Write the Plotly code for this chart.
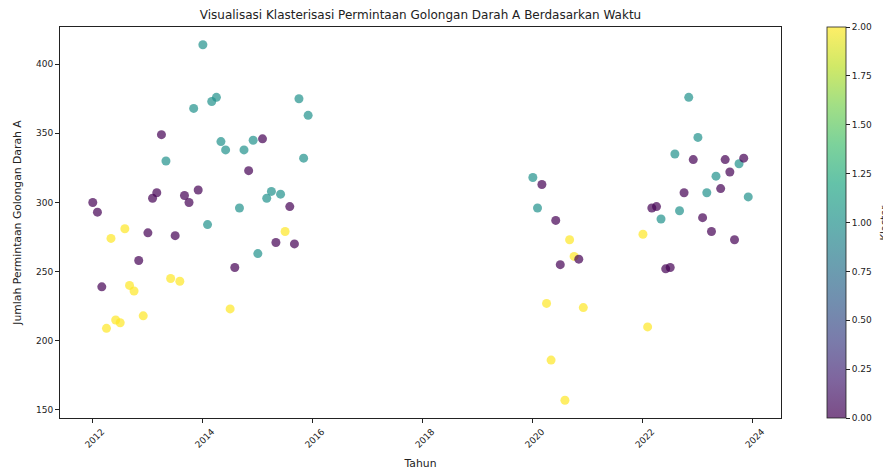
import plotly.graph_objects as go
import pandas as pd

# ---------------- data ----------------
tanggal = [
    "2012-01-01", "2012-02-01", "2012-03-01", "2012-04-01", "2012-05-01", "2012-06-01",
    "2012-07-01", "2012-08-01", "2012-09-01", "2012-10-01", "2012-11-01", "2012-12-01",
    "2013-01-01", "2013-02-01", "2013-03-01", "2013-04-01", "2013-05-01", "2013-06-01",
    "2013-07-01", "2013-08-01", "2013-09-01", "2013-10-01", "2013-11-01", "2013-12-01",
    "2014-01-01", "2014-02-01", "2014-03-01", "2014-04-01", "2014-05-01", "2014-06-01",
    "2014-07-01", "2014-08-01", "2014-09-01", "2014-10-01", "2014-11-01", "2014-12-01",
    "2015-01-01", "2015-02-01", "2015-03-01", "2015-04-01", "2015-05-01", "2015-06-01",
    "2015-07-01", "2015-08-01", "2015-09-01", "2015-10-01", "2015-11-01", "2015-12-01",
    "2020-01-01", "2020-02-01", "2020-03-01", "2020-04-01", "2020-05-01", "2020-06-01",
    "2020-07-01", "2020-08-01", "2020-09-01", "2020-10-01", "2020-11-01", "2020-12-01",
    "2022-01-01", "2022-02-01", "2022-03-01", "2022-04-01", "2022-05-01", "2022-06-01",
    "2022-07-01", "2022-08-01", "2022-09-01", "2022-10-01", "2022-11-01", "2022-12-01",
    "2023-01-01", "2023-02-01", "2023-03-01", "2023-04-01", "2023-05-01", "2023-06-01",
    "2023-07-01", "2023-08-01", "2023-09-01", "2023-10-01", "2023-11-01", "2023-12-01",
]

permintaan = [
    300, 293, 239, 209, 274, 215, 213, 281, 240, 236, 258, 218,
    278, 303, 307, 349, 330, 245, 276, 243, 305, 300, 368, 309,
    414, 284, 373, 376, 344, 338, 223, 253, 296, 338, 323, 345,
    263, 346, 303, 308, 271, 306, 279, 297, 270, 375, 332, 363,
    318, 296, 313, 227, 186, 287, 255, 157, 273, 261, 259, 224,
    277, 210, 296, 297, 288, 252, 253, 335, 294, 307, 376, 331,
    347, 289, 307, 279, 319, 310, 331, 322, 273, 328, 332, 304,
]

klaster = [
    0, 0, 0, 2, 2, 2, 2, 2, 2, 2, 0, 2,
    0, 0, 0, 0, 1, 2, 0, 2, 0, 0, 1, 0,
    1, 1, 1, 1, 1, 1, 2, 0, 1, 1, 0, 1,
    1, 0, 1, 1, 0, 1, 2, 0, 0, 1, 1, 1,
    1, 1, 0, 2, 2, 0, 0, 2, 2, 2, 0, 2,
    2, 2, 0, 0, 1, 0, 0, 1, 1, 0, 1, 0,
    1, 0, 1, 0, 1, 0, 0, 0, 0, 1, 0, 1,
]

y_ticks = [150, 200, 250, 300, 350, 400]
cb_ticks = [0.0, 0.25, 0.5, 0.75, 1.0, 1.25, 1.5, 1.75, 2.0]

# viridis with alpha 0.7 (like matplotlib alpha=0.7)
viridis = [
    (68, 1, 84), (72, 36, 117), (65, 68, 135), (53, 95, 141), (42, 120, 142),
    (33, 145, 140), (34, 168, 132), (68, 191, 112), (122, 209, 81), (189, 223, 38),
    (253, 231, 37),
]
colorscale = [[i / 10, f"rgba({r},{g},{b},0.7)"] for i, (r, g, b) in enumerate(viridis)]

# ---------------- ranges like matplotlib margins ----------------
dt = pd.to_datetime(tanggal)
span = dt.max() - dt.min()
x_range = [dt.min() - 0.05 * span, dt.max() + 0.05 * span]
ymin, ymax = min(permintaan), max(permintaan)
yspan = ymax - ymin
y_range = [ymin - 0.05 * yspan, ymax + 0.05 * yspan]

# page body has an 8px default margin, so the figure is 8px smaller
OFF = 8
W, H = 891 - OFF, 470 - OFF
L, T = 60 - OFF, 27 - OFF
R = W - (781 - OFF)
B = H - (418 - OFF)
pw = W - L - R

FONT = "DejaVu Sans"
TXT = "#222"

fig = go.Figure(
    go.Scatter(
        x=dt,
        y=permintaan,
        mode="markers",
        marker=dict(
            size=9,
            color=klaster,
            colorscale=colorscale,
            cmin=0,
            cmax=2,
            line=dict(width=0),
            showscale=True,
            colorbar=dict(
                x=(827 - OFF - L) / pw,
                xanchor="left",
                xpad=0,
                y=0.5,
                yanchor="middle",
                ypad=0,
                len=1,
                lenmode="fraction",
                thickness=19,
                thicknessmode="pixels",
                outlinewidth=0.8,
                outlinecolor=TXT,
                tickvals=cb_ticks,
                tickformat=".2f",
                ticks="outside",
                ticklen=4,
                tickwidth=0.8,
                tickcolor=TXT,
                tickfont=dict(family=FONT, size=9, color=TXT),
            ),
        ),
        hoverinfo="x+y",
    )
)

fig.update_layout(
    width=W,
    height=H,
    margin=dict(l=L, r=R, t=T, b=B, autoexpand=False),
    paper_bgcolor="white",
    plot_bgcolor="white",
    showlegend=False,
    font=dict(family=FONT, color=TXT),
    title=dict(
        text="Visualisasi Klasterisasi Permintaan Golongan Darah A Berdasarkan Waktu",
        x=0.5,
        xref="paper",
        xanchor="center",
        y=1 - (15 - OFF) / H,
        yref="container",
        yanchor="middle",
        font=dict(family=FONT, size=12, color=TXT),
    ),
    xaxis=dict(
        type="date",
        range=x_range,
        tick0="2012-01-01",
        dtick="M24",
        tickformat="%Y",
        tickangle=-45,
        ticklabelshift=9,
        ticks="outside",
        ticklen=4,
        tickwidth=0.8,
        tickcolor=TXT,
        showline=True,
        linecolor=TXT,
        linewidth=0.8,
        mirror=True,
        showgrid=False,
        zeroline=False,
        tickfont=dict(family=FONT, size=9, color=TXT),
        title=dict(text="Tahun", standoff=11,
                   font=dict(family=FONT, size=10.8, color=TXT)),
        automargin=False,
    ),
    yaxis=dict(
        range=y_range,
        tickvals=y_ticks,
        ticks="outside",
        ticklen=4,
        tickwidth=0.8,
        tickcolor=TXT,
        showline=True,
        linecolor=TXT,
        linewidth=0.8,
        mirror=True,
        showgrid=False,
        zeroline=False,
        tickfont=dict(family=FONT, size=9, color=TXT),
        title=dict(text="Jumlah Permintaan Golongan Darah A", standoff=12,
                   font=dict(family=FONT, size=10.8, color=TXT)),
        automargin=False,
    ),
    annotations=[
        dict(
            text="Klaster",
            xref="paper",
            yref="paper",
            x=(884 - OFF - L) / pw,
            y=0.5,
            xanchor="center",
            yanchor="middle",
            textangle=-90,
            showarrow=False,
            font=dict(family=FONT, size=10, color=TXT),
        )
    ],
)

fig.write_html("out.html")
